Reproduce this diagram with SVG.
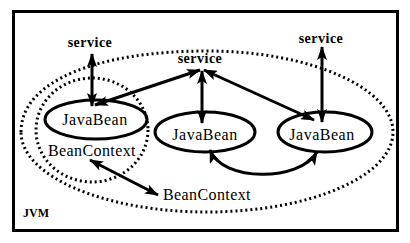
<svg xmlns="http://www.w3.org/2000/svg" width="410" height="243" viewBox="0 0 410 243">
<style>
text{font-family:"Liberation Serif","Times New Roman","DejaVu Serif",serif;fill:#000}
.svc{font-size:14px;font-weight:bold;letter-spacing:0.5px;text-anchor:middle}
.bean{font-size:16px;letter-spacing:0.5px;text-anchor:middle}
.ctx{font-size:16px;letter-spacing:0.4px}
.jvm{font-size:12px;font-weight:bold}
.solid{fill:none;stroke:#000;stroke-width:3}
.dot{fill:none;stroke:#000;stroke-width:3;stroke-dasharray:2 3}
.arr{fill:none;stroke:#000;stroke-width:3;marker-start:url(#ah);marker-end:url(#ah)}
</style>
<defs>
<marker id="ah" markerUnits="userSpaceOnUse" viewBox="0 0 14 10" markerWidth="14" markerHeight="10" refX="13" refY="5" orient="auto-start-reverse">
<path d="M0,0 L14,5 L0,10 L3,5 z" fill="#000"/>
</marker>
</defs>
<rect x="0" y="0" width="410" height="243" fill="#fff"/>
<rect x="13.5" y="11.5" width="384" height="219" fill="none" stroke="#000" stroke-width="3"/>
<g id="jvm">
<text class="jvm" x="23" y="217" font-family="Liberation Serif, serif">JVM</text>
</g>
<g id="outer-context">
<path class="dot" d="M21,132 C21,80 100,51 207,51 C310,51 393,88 393,132 C393,176 310,212 207,212 C104,212 21,176 21,132 Z"/>
<text class="ctx" x="163" y="200" font-family="Liberation Serif, serif">BeanContext</text>
</g>
<g id="inner-context">
<ellipse class="dot" cx="92" cy="130" rx="56" ry="52"/>
<text class="ctx" x="92" y="156" text-anchor="middle" font-family="Liberation Serif, serif">BeanContext</text>
</g>
<g id="bean-left">
<ellipse class="solid" cx="96" cy="119.5" rx="51" ry="19.5"/>
<text class="bean" x="95" y="125" font-family="Liberation Serif, serif">JavaBean</text>
</g>
<g id="bean-middle">
<ellipse class="solid" cx="205" cy="132" rx="50" ry="20"/>
<text class="bean" x="205" y="140" font-family="Liberation Serif, serif">JavaBean</text>
</g>
<g id="bean-right">
<ellipse class="solid" cx="325" cy="132" rx="47" ry="20"/>
<text class="bean" x="322" y="140" font-family="Liberation Serif, serif">JavaBean</text>
</g>
<g id="service-left">
<text class="svc" x="90" y="47" font-family="Liberation Serif, serif">service</text>
</g>
<g id="service-middle">
<text class="svc" x="200" y="63" font-family="Liberation Serif, serif">service</text>
</g>
<g id="service-right">
<text class="svc" x="321" y="43" font-family="Liberation Serif, serif">service</text>
</g>
<g id="connectors">
<line class="arr" x1="92" y1="54" x2="92" y2="106"/>
<line class="arr" x1="95" y1="105" x2="200" y2="70"/>
<line class="arr" x1="202" y1="71" x2="202" y2="123"/>
<line class="arr" x1="204" y1="70" x2="314" y2="120"/>
<line class="arr" x1="322" y1="47" x2="322" y2="122"/>
<line class="arr" x1="90" y1="160" x2="158" y2="195"/>
<path class="arr" d="M210,150 C222,182 300,182 317,152"/>
</g>
</svg>
